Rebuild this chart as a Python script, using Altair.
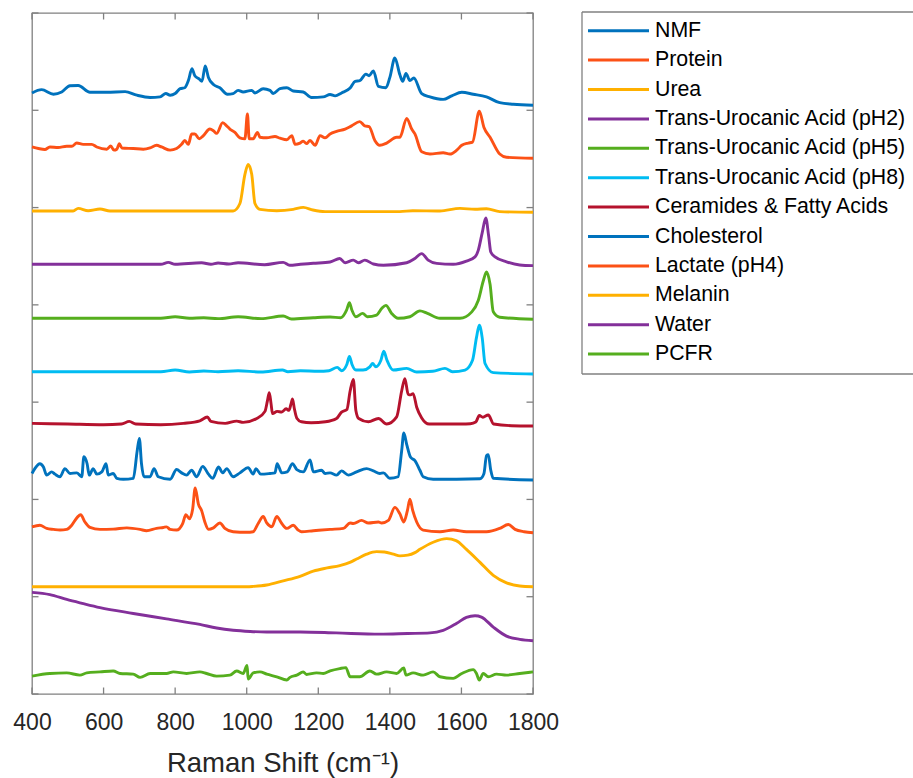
import altair as alt
import pandas as pd

FONT = "Liberation Sans, Arial, Helvetica, sans-serif"
FRAME = "#808080"
TEXT = "#262626"

names = ["NMF", "Protein", "Urea", "Trans-Urocanic Acid (pH2)", "Trans-Urocanic Acid (pH5)",
         "Trans-Urocanic Acid (pH8)", "Ceramides & Fatty Acids", "Cholesterol", "Lactate (pH4)",
         "Melanin", "Water", "PCFR"]
colors = ["#0072BD", "#FC5116", "#FFB000", "#83309A", "#55AE1E", "#00BCF2", "#B5122D",
          "#0072BD", "#FC5116", "#FFB000", "#83309A", "#55AE1E"]
# vertical stacking offsets (arbitrary units)
offsets = [605.2, 550.7, 495.2, 440.3, 385.2, 329.0, 275.5, 220.0, 165.8, 110.3, 54.8, 14.4]

# (Raman shift cm^-1, relative intensity a.u.)
NMF = [(400,12.6),(427,16),(460,11.3),(483,13.6),(506,20),(529,20.3),(562,13.3),(609,13.3),(660,14),(693,10.3),
       (730,8),(758,8.6),(774,12),(786,10.3),(800,12),(814,17),(827,18),(837,25.3),(847,37.6),(855,30.3),
       (867,27),(875,24.6),(884,40.3),(893,28.6),(907,21.3),(925,18),(946,11.3),(962,12),(976,15.3),(990,13.6),
       (1014,15.3),(1023,12.6),(1046,17),(1065,15.3),(1074,12),(1093,17),(1112,18),(1130,14.6),(1158,13.6),(1181,8),
       (1214,8.6),(1233,11),(1247,9.6),(1265,12.6),(1289,17.6),(1303,24.6),(1316,25.3),(1333,32),(1342,30.3),(1354,35.3),
       (1368,19.3),(1389,18),(1400,28.6),(1414,48.6),(1428,31.3),(1436,24.6),(1445,32.6),(1456,25.3),(1467,28),(1489,12),
       (1512,8.6),(1549,6),(1573,9.6),(1601,13.3),(1633,11.3),(1670,8.6),(1707,2.6),(1745,1),(1800,0)]
PROTEIN = [(400,11.6),(418,10),(436,9),(450,11.6),(473,11),(497,12.3),(511,12.3),(525,15.6),(543,14.3),(567,14.3),
           (581,11.6),(609,9.3),(620,12.6),(629,8.3),(637,9.3),(644,15),(651,10.6),(683,10),(711,9.3),(730,10.6),
           (748,13.3),(762,11.6),(786,8.3),(804,10),(818,14.3),(827,18.3),(837,14.3),(846,25),(855,25),(867,20),
           (879,23.3),(897,30),(907,28.3),(916,25.6),(933,36.6),(944,33.3),(953,30),(967,26.6),(981,21),(995,20),
           (1002,45.6),(1007,20),(1018,20),(1030,26.6),(1037,21.6),(1056,21),(1079,22.3),(1093,20.6),(1112,19),(1126,23.3),
           (1135,14.3),(1149,15.6),(1158,17.6),(1167,15),(1177,18.3),(1191,13.3),(1205,23.3),(1219,21),(1233,25),(1251,27.6),
           (1275,30),(1293,33.3),(1316,37.6),(1330,33.3),(1342,32.6),(1358,18.3),(1372,13.3),(1391,15.6),(1419,21.6),(1428,21.6),
           (1447,41),(1461,30),(1470,25),(1489,6.6),(1512,4.3),(1549,5.6),(1568,4.3),(1587,8.3),(1601,13.3),(1619,15.6),
           (1631,16.6),(1650,48.3),(1663,31.6),(1680,21.6),(1707,4.3),(1726,1),(1800,0)]
UREA = [(400,1.3),(515,1.3),(529,4),(557,1.6),(590,3.3),(618,1.3),(962,1.3),(981,9),(995,39),(1004,49),
        (1014,39),(1023,9),(1037,3),(1084,1.6),(1130,3),(1158,5),(1185,2.3),(1219,0.6),(1428,0.6),(1464,1.6),
        (1540,1.3),(1596,4),(1638,3),(1670,3.6),(1707,0.6),(1800,0)]
UCA_PH2 = [(400,1.4),(760,1.4),(781,3.4),(800,1.4),(874,3),(900,1.4),(920,2.7),(950,1.7),(976,3),(1050,1),
           (1102,3.4),(1120,0.4),(1150,1.4),(1186,2.4),(1233,3.7),(1260,7.4),(1275,3),(1298,5.7),(1312,3),(1330,5.7),
           (1354,1.7),(1382,0.4),(1447,3),(1470,7.4),(1489,12.4),(1507,5.7),(1531,2.4),(1577,1.4),(1614,4.7),(1638,9),
           (1647,15.7),(1658,33.7),(1668,49),(1676,30.7),(1682,14),(1694,9),(1726,4),(1763,0.7),(1800,0)]
UCA_PH5 = [(400,1),(760,1),(800,2.6),(840,1),(880,1.6),(920,0.6),(976,2.6),(1040,0.6),(1102,3.3),(1125,0.3),
           (1186,1.6),(1233,2.3),(1263,1.6),(1279,9.3),(1287,17),(1294,9.3),(1305,2.6),(1324,6),(1337,2.6),(1363,4.3),
           (1377,11),(1389,14.3),(1405,6),(1423,1),(1456,2.6),(1484,8.6),(1505,6),(1540,1),(1596,1),(1629,7.6),
           (1647,19.3),(1661,39.3),(1670,48.6),(1680,36),(1689,7.6),(1707,2),(1800,0)]
UCA_PH8 = [(400,2.3),(760,2.3),(800,4),(840,2),(880,3),(920,2.3),(976,3.3),(1040,2),(1100,4),(1115,2.3),
           (1150,3.3),(1200,2.7),(1230,3.3),(1253,6.7),(1265,3.3),(1280,10),(1287,18),(1294,10),(1305,4),(1325,4),
           (1344,7.3),(1352,10.7),(1361,7.3),(1375,14),(1383,23.3),(1392,14),(1409,4),(1447,5.7),(1475,2),(1520,2.7),
           (1554,5.7),(1575,2.3),(1610,4),(1631,14),(1642,37.3),(1650,50),(1658,37.3),(1666,10.7),(1689,1.3),(1800,0)]
CERAMIDES = [(400,2.7),(500,2),(600,1.3),(650,2),(672,4.7),(690,2),(760,1.3),(823,2.7),(869,5.3),(890,9.3),
             (900,4.7),(940,2.7),(972,5),(990,3.7),(1028,7.7),(1051,15),(1058,26),(1063,34.3),(1068,23),(1072,12.7),
             (1085,15),(1098,14.3),(1110,17.7),(1118,16),(1124,23),(1128,27.7),(1133,18),(1140,8),(1153,4.3),(1180,3.3),
             (1220,4.3),(1251,7.7),(1265,14.3),(1280,17),(1289,36),(1298,47.7),(1305,16),(1313,7.7),(1340,4.3),(1368,7.7),
             (1391,2),(1419,9.3),(1433,36),(1442,48.7),(1451,32.7),(1458,32),(1465,33.3),(1475,19.3),(1489,8.3),(1510,2),
             (1600,2),(1625,2.3),(1640,4),(1650,10.7),(1660,9),(1675,11.3),(1690,2),(1740,0.3),(1800,0)]
CHOLESTEROL = [(400,6.7),(408,11.7),(422,16.7),(432,13.3),(441,5),(455,8.3),(464,6),(478,3.3),(492,11.7),(506,6.7),
               (525,7.3),(539,3.3),(545,24),(554,16.7),(560,5),(571,11.7),(581,6),(595,8.3),(607,16.7),(613,5),
               (627,6.7),(637,1.7),(655,0.7),(683,1.7),(694,30),(700,42.7),(706,16.7),(713,3.3),(730,3.3),(741,11.7),
               (753,3.3),(786,0.7),(804,10.7),(818,7.3),(832,5),(846,10),(860,3.3),(877,14),(893,6),(905,1.7),
               (921,13.3),(933,7.3),(944,11.7),(962,3.3),(981,7.3),(1004,12.7),(1018,6),(1026,11.7),(1039,6),(1065,6.7),
               (1079,7.3),(1085,16.7),(1098,7.3),(1113,8.3),(1128,16.7),(1140,10.7),(1158,8.3),(1177,20.7),(1186,8.3),(1209,10),
               (1219,6.7),(1233,7.3),(1251,5),(1265,9.3),(1284,5),(1307,8.3),(1335,11.7),(1354,9.3),(1372,6.7),(1382,7.3),
               (1400,1.7),(1423,3.3),(1433,30),(1439,48.3),(1447,36.7),(1458,23.3),(1470,20),(1484,10),(1493,3.3),(1521,0.7),
               (1652,1.3),(1663,6.7),(1670,25),(1675,26),(1682,10),(1689,1.7),(1800,0)]
LACTATE = [(400,6),(422,7.7),(441,4.4),(460,3.4),(478,2.7),(497,3.4),(511,7.7),(527,16),(536,18.4),(548,11),
           (562,5.4),(590,3.4),(627,3.7),(665,5),(702,3.4),(720,2),(748,4.4),(767,5.4),(776,6),(786,3.4),
           (804,2.7),(821,9.4),(830,18.4),(840,14.4),(849,24.4),(856,46),(865,29.4),(874,22.7),(883,11),(893,3.4),
           (907,5),(925,10),(939,4.4),(962,1),(1000,0.4),(1018,1),(1032,9.4),(1046,16.7),(1056,10),(1070,6),
           (1084,16.7),(1098,9.4),(1112,4.4),(1130,7.7),(1144,2.7),(1153,1),(1186,2),(1233,3.4),(1270,4.4),(1289,10),
           (1298,9.4),(1321,12.7),(1340,10),(1368,11),(1377,10),(1396,12.7),(1414,26),(1428,19.4),(1439,11),(1449,22.7),
           (1456,34.4),(1464,22.7),(1475,11),(1493,2.7),(1540,1),(1577,2.7),(1614,1),(1670,1),(1707,4.4),(1731,8.4),
           (1750,3.4),(1775,1),(1800,0)]
MELANIN = [(400,0),(1000,0),(1018,0.3),(1056,1.7),(1102,6),(1149,10.7),(1186,16),(1225,19.3),(1260,21.7),(1290,25.3),
           (1307,28.4),(1335,33.4),(1363,36),(1385,35.7),(1410,33.4),(1428,31.7),(1450,32.4),(1470,35),(1484,38.4),(1521,45.7),
           (1559,49.4),(1585,47.4),(1614,38.4),(1652,25),(1689,11.7),(1726,4),(1763,0.7),(1800,0)]
WATER = [(400,49.7),(450,47.4),(497,42.4),(540,38.4),(590,34),(683,28),(776,22.4),(869,16.7),(916,13),(962,10.7),
         (1010,9.5),(1056,9),(1150,9),(1250,8),(1372,6.7),(1450,7.4),(1512,8),(1549,10.7),(1587,18),(1614,24),
         (1638,25.7),(1656,24.3),(1689,14),(1726,4.7),(1763,1.4),(1800,0)]
PCFR = [(400,4),(450,6.7),(497,7.3),(534,5),(553,7.3),(590,8.3),(627,9.3),(646,6.7),(683,6),(702,2.7),
        (730,6.7),(776,6.7),(795,8.3),(832,6.7),(869,8.3),(888,6.7),(916,4),(953,5),(972,9.3),(990,6.7),
        (1001,15),(1004,1),(1018,7.3),(1037,8.3),(1056,6),(1084,3.3),(1112,0),(1121,2.7),(1140,5),(1158,8.3),
        (1167,5.7),(1195,7.3),(1214,6.7),(1233,9.3),(1260,11.7),(1277,12.7),(1289,3.3),(1316,3.3),(1344,9.3),(1363,6),
        (1391,8.3),(1419,6.7),(1439,12.3),(1445,5),(1465,7.3),(1493,5),(1521,8.3),(1540,3.3),(1577,1.7),(1601,6.7),
        (1633,10.7),(1642,6.7),(1650,0),(1661,6.7),(1675,3.3),(1698,6),(1726,5),(1763,6.7),(1800,8.3)]

spectra = [NMF, PROTEIN, UREA, UCA_PH2, UCA_PH5, UCA_PH8, CERAMIDES, CHOLESTEROL, LACTATE, MELANIN, WATER, PCFR]

x_ticks = [400, 600, 800, 1000, 1200, 1400, 1600, 1800]
y_ticks = [0, 100, 200, 300, 400, 500, 600, 700]

rows = []
for name, off, pts in zip(names, offsets, spectra):
    for wn, val in pts:
        rows.append({"series": name, "wavenumber": wn, "signal": off + val})
df = pd.DataFrame(rows)

W, H = 501, 681
TL = 6.5

xscale = alt.Scale(domain=[400, 1800], nice=False, zero=False)
yscale = alt.Scale(domain=[0, 700], nice=False, zero=False)
xaxis = alt.Axis(values=x_ticks, format="d", ticks=False, tickSize=0, domain=False, grid=False,
                 labelFlush=False, labelOverlap=False, labelBound=False,
                 labelFontSize=23, labelFont=FONT, labelColor=TEXT, labelPadding=17,
                 title="Raman Shift (cm\u207b\u00b9)", titleFontSize=27.5, titleFont=FONT,
                 titleColor=TEXT, titleFontWeight="normal", titlePadding=15)
color = alt.Color("series:N", scale=alt.Scale(domain=names, range=colors), legend=None)

lines = alt.Chart(df).mark_line(strokeWidth=2.9, interpolate="monotone").encode(
    x=alt.X("wavenumber:Q", scale=xscale, axis=xaxis),
    y=alt.Y("signal:Q", scale=yscale, axis=None),
    color=color,
)

xt = pd.DataFrame({"wavenumber": x_ticks})
yt = pd.DataFrame({"signal": y_ticks})
rule_style = dict(color=FRAME, strokeWidth=1.3)
xtick_bottom = alt.Chart(xt).mark_rule(**rule_style).encode(
    x=alt.X("wavenumber:Q", scale=xscale, axis=xaxis), y=alt.value(H), y2=alt.value(H - TL))
xtick_top = alt.Chart(xt).mark_rule(**rule_style).encode(
    x=alt.X("wavenumber:Q", scale=xscale, axis=xaxis), y=alt.value(0), y2=alt.value(TL))
ytick_left = alt.Chart(yt).mark_rule(**rule_style).encode(
    y=alt.Y("signal:Q", scale=yscale, axis=None), x=alt.value(0), x2=alt.value(TL))
ytick_right = alt.Chart(yt).mark_rule(**rule_style).encode(
    y=alt.Y("signal:Q", scale=yscale, axis=None), x=alt.value(W - TL), x2=alt.value(W))

main = alt.layer(lines, xtick_bottom, xtick_top, ytick_left, ytick_right)

leg = pd.DataFrame({"series": names})
legy = alt.Y("series:N", scale=alt.Scale(type="point", domain=names, range=[17.7, 341.1], padding=0),
             axis=None)
leg_lines = alt.Chart(leg).mark_rule(strokeWidth=3).encode(
    x=alt.value(556), x2=alt.value(617), y=legy, color=color)
leg_text = alt.Chart(leg).mark_text(align="left", baseline="middle", fontSize=21.3, font=FONT,
                                    color="#000000").encode(x=alt.value(623), y=legy, text="series:N")
one = pd.DataFrame({"k": [0]})
box_top = alt.Chart(one).mark_rule(**rule_style).encode(x=alt.value(550), x2=alt.value(881), y=alt.value(-1))
box_bottom = alt.Chart(one).mark_rule(**rule_style).encode(x=alt.value(550), x2=alt.value(881), y=alt.value(361))
box_left = alt.Chart(one).mark_rule(**rule_style).encode(x=alt.value(550), y=alt.value(-1), y2=alt.value(361))

legend = alt.layer(box_top, box_bottom, box_left, leg_lines, leg_text)

chart = alt.layer(main, legend).resolve_scale(y="independent").properties(
    width=W, height=H,
    autosize=alt.AutoSizeParams(type="none"),
    padding={"left": 32, "top": 13, "right": 913 - 32 - W, "bottom": 778 - 13 - H},
    background="white",
).configure_view(stroke=FRAME, strokeWidth=1.3)

chart.save("out.html", embed_options={"renderer": "svg", "actions": False})
